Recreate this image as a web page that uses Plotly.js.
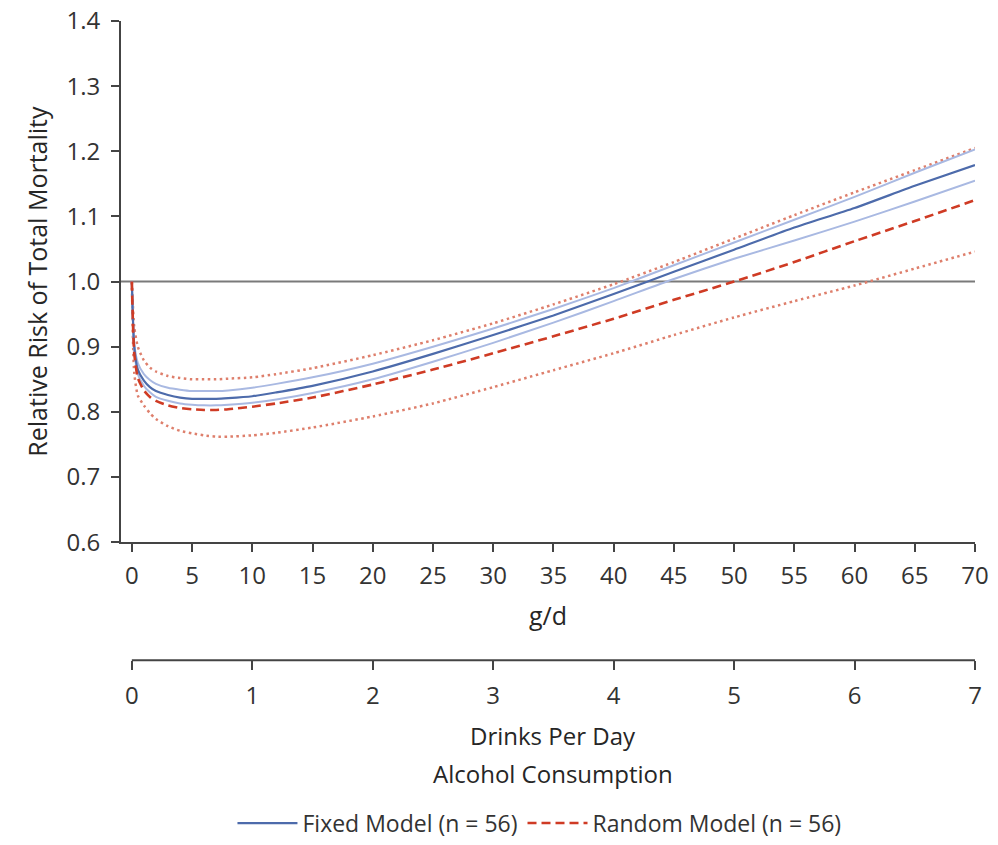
<!DOCTYPE html>
<html>
<head>
<meta charset="utf-8">
<script src="https://cdn.plot.ly/plotly-3.0.1.min.js"></script>
<style>html,body{margin:0;padding:0;background:#fff;}#chart{width:998px;height:845px;}</style>
</head>
<body>
<div id="chart"></div>
<script>
// Alcohol consumption (g/d)
const gramsPerDay = [0, 0.2, 0.5, 1, 1.5, 2, 3, 4, 5, 6, 7, 8, 10, 12, 15, 20, 25, 30, 35, 40, 45, 50, 55, 60, 65, 70];
// Fixed model (n = 56)
const fixedRR    = [1.0, 0.900, 0.865, 0.848, 0.838, 0.832, 0.826, 0.822, 0.820, 0.820, 0.820, 0.821, 0.824, 0.830, 0.840, 0.862, 0.889, 0.918, 0.948, 0.981, 1.015, 1.049, 1.083, 1.113, 1.147, 1.179];
const fixedUpper = [1.0, 0.905, 0.875, 0.858, 0.849, 0.843, 0.837, 0.834, 0.832, 0.832, 0.832, 0.833, 0.837, 0.843, 0.853, 0.874, 0.900, 0.928, 0.958, 0.990, 1.025, 1.060, 1.095, 1.130, 1.167, 1.203];
const fixedLower = [1.0, 0.895, 0.858, 0.840, 0.830, 0.823, 0.817, 0.813, 0.811, 0.810, 0.810, 0.811, 0.814, 0.819, 0.829, 0.850, 0.877, 0.906, 0.937, 0.970, 1.004, 1.035, 1.063, 1.092, 1.123, 1.155];
// Random model (n = 56)
const randomRR    = [1.0, 0.890, 0.852, 0.833, 0.823, 0.817, 0.810, 0.806, 0.804, 0.803, 0.803, 0.804, 0.808, 0.813, 0.822, 0.842, 0.865, 0.890, 0.916, 0.943, 0.972, 1.000, 1.030, 1.062, 1.093, 1.125];
const randomUpper = [1.0, 0.930, 0.900, 0.879, 0.868, 0.862, 0.855, 0.852, 0.850, 0.850, 0.850, 0.851, 0.853, 0.858, 0.867, 0.887, 0.910, 0.936, 0.965, 0.996, 1.030, 1.066, 1.102, 1.137, 1.171, 1.205];
const randomLower = [1.0, 0.860, 0.825, 0.810, 0.798, 0.789, 0.778, 0.771, 0.767, 0.764, 0.762, 0.762, 0.764, 0.768, 0.776, 0.793, 0.813, 0.838, 0.864, 0.890, 0.918, 0.945, 0.970, 0.994, 1.020, 1.046];
// Axis ticks
const gTicks = [0, 5, 10, 15, 20, 25, 30, 35, 40, 45, 50, 55, 60, 65, 70];
const drinkTicks = [0, 1, 2, 3, 4, 5, 6, 7];
const rrTicks = [0.6, 0.7, 0.8, 0.9, 1.0, 1.1, 1.2, 1.3, 1.4];
const rrTickLabels = ['0.6', '0.7', '0.8', '0.9', '1.0', '1.1', '1.2', '1.3', '1.4'];

const FONT = 'Open Sans, Noto Sans, sans-serif';
const TXT = '#333333';
const TITLE = '#262626';
const AX = '#444444';
const lightBlue = '#a9b9e2';
const darkBlue = '#4d6bab';
const red = '#cf3b24';
const dotRed = '#de7f6c';

function line(y, color, width, dash, name, show) {
  return {
    x: gramsPerDay, y: y, type: 'scatter', mode: 'lines', name: name || '',
    showlegend: !!show, hoverinfo: 'skip',
    line: {color: color, width: width, dash: dash, shape: 'spline', smoothing: 0.6}
  };
}

const traces = [
  line(randomLower, dotRed, 2.5, '2.5px,3.5px'),
  line(randomUpper, dotRed, 2.5, '2.5px,3.5px'),
  line(fixedUpper, lightBlue, 2, 'solid'),
  line(fixedLower, lightBlue, 2, 'solid'),
  line(fixedRR, darkBlue, 2.2, 'solid', 'Fixed Model (n = 56)', true),
  line(randomRR, red, 2.6, '9px,5px', 'Random Model (n = 56)', true),
  {x: [drinkTicks[0], drinkTicks[drinkTicks.length - 1]], y: [null, null], xaxis: 'x2', type: 'scatter',
   mode: 'lines', showlegend: false, hoverinfo: 'skip'}
];

// paper: top 21px, bottom 845px (height 824)
const P = v => (845 - v) / 824;

const layout = {
  width: 998, height: 845,
  margin: {l: 121, r: 23, t: 21, b: 0},
  paper_bgcolor: '#ffffff', plot_bgcolor: 'rgba(0,0,0,0)',
  font: {family: FONT, size: 23, color: TXT},
  showlegend: true,
  legend: {orientation: 'h', x: 0.49, xanchor: 'center', y: P(829), yanchor: 'middle',
           font: {family: FONT, size: 23, color: TXT}, itemwidth: 60, tracegroupgap: 0,
           bgcolor: 'rgba(0,0,0,0)'},
  xaxis: {
    range: [-0.9, 70], tickvals: gTicks, ticktext: gTicks.map(String),
    showline: true, linecolor: AX, linewidth: 2, ticks: 'outside', ticklen: 8, tickwidth: 2, tickcolor: AX,
    showgrid: false, zeroline: false, tickfont: {family: FONT, size: 24, color: TXT},
    ticklabelstandoff: 3, fixedrange: true
  },
  xaxis2: {
    overlaying: 'x', anchor: 'free', position: P(665), side: 'bottom',
    range: [-0.09, 7.0], tickvals: drinkTicks, ticktext: drinkTicks.map(String),
    showline: false, ticks: 'outside', ticklen: 9, tickwidth: 2, tickcolor: AX,
    showgrid: false, zeroline: false, tickfont: {family: FONT, size: 24, color: TXT},
    ticklabelstandoff: 5, fixedrange: true
  },
  yaxis: {
    domain: [P(546), 1], range: [0.6, 1.4], tickvals: rrTicks, ticktext: rrTickLabels,
    showline: true, linecolor: AX, linewidth: 2, ticks: 'outside', ticklen: 8, tickwidth: 2, tickcolor: AX,
    showgrid: false, zeroline: false, tickfont: {family: FONT, size: 24, color: TXT},
    ticklabelstandoff: 6, fixedrange: true,
    title: {text: 'Relative Risk of Total Mortality', font: {family: FONT, size: 25, color: TITLE}, standoff: 12}
  },
  shapes: [
    {type: 'line', xref: 'paper', yref: 'y', x0: 0, x1: 1, y0: 1.0, y1: 1.0,
     line: {color: '#7a7a7a', width: 2}, layer: 'below'},
    {type: 'line', xref: 'x', yref: 'paper', x0: 0, x1: 70, y0: P(665), y1: P(665),
     line: {color: AX, width: 2}}
  ],
  annotations: [
    {text: 'g/d', xref: 'paper', yref: 'paper', x: 0.5, y: P(619), xanchor: 'center', yanchor: 'middle',
     showarrow: false, font: {family: FONT, size: 25, color: TITLE}},
    {text: 'Drinks Per Day', xref: 'paper', yref: 'paper', x: 0.506, y: P(741), xanchor: 'center', yanchor: 'middle',
     showarrow: false, font: {family: FONT, size: 24, color: TITLE}},
    {text: 'Alcohol Consumption', xref: 'paper', yref: 'paper', x: 0.506, y: P(779), xanchor: 'center', yanchor: 'middle',
     showarrow: false, font: {family: FONT, size: 24, color: TITLE}}
  ]
};

Plotly.newPlot('chart', traces, layout, {displayModeBar: false, staticPlot: true});
</script>
</body>
</html>
